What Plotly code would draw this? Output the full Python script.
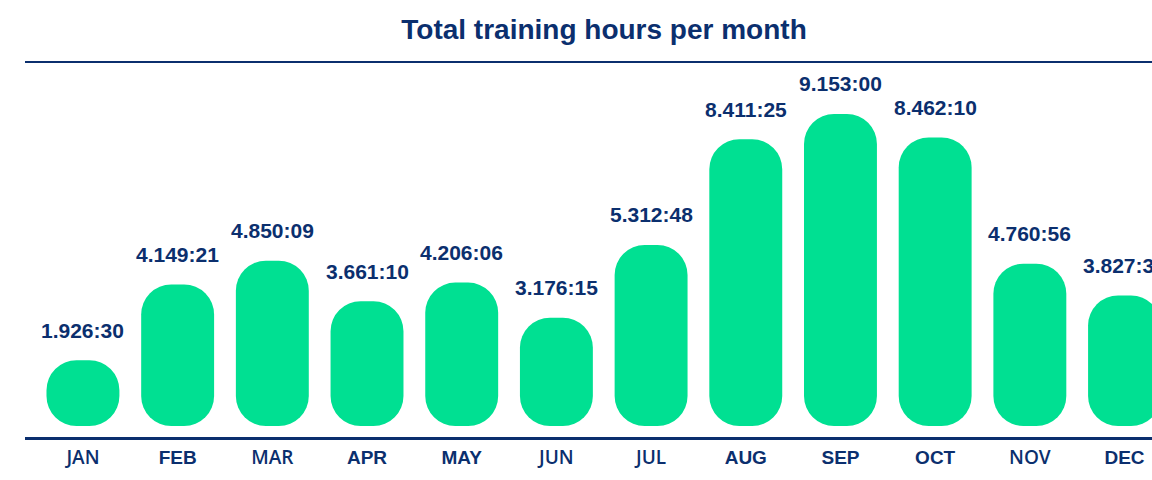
import plotly.graph_objects as go

months = ["JAN", "FEB", "MAR", "APR", "MAY", "JUN", "JUL", "AUG", "SEP", "OCT", "NOV", "DEC"]
hours = [1926, 4149, 4850, 3661, 4206, 3176, 5312, 8411, 9153, 8462, 4760, 3827]
minutes = [30, 21, 9, 10, 6, 15, 48, 25, 0, 10, 56, 30]
bold_months = ["FEB", "APR", "MAY", "AUG", "SEP", "OCT", "DEC"]

NAVY = "#0B2F6E"
GREEN = "#00E092"

values = [h + m / 60 for h, m in zip(hours, minutes)]
labels = [f"{h:,}".replace(",", ".") + f":{m:02d}" for h, m in zip(hours, minutes)]
ticktext = [f"<b>{m}</b>" if m in bold_months
            else f"<span style='font-family:Open Sans;font-weight:600'>{m}</span>"
            for m in months]

fig = go.Figure()
fig.add_trace(go.Bar(x=months, y=values, base=[0] * len(months), width=0.77,
                     marker=dict(color=GREEN, cornerradius=30, line=dict(width=0)),
                     hoverinfo="skip", showlegend=False))

for m, v, lab in zip(months, values, labels):
    fig.add_annotation(x=m, y=v, text=f"<b>{lab}</b>", showarrow=False,
                       yanchor="middle", yshift=30,
                       font=dict(family="Liberation Sans, Arial", size=21, color=NAVY))

fig.add_shape(type="line", xref="paper", yref="paper", x0=0, x1=1, y0=1.0218, y1=1.0218,
              line=dict(color=NAVY, width=2))

fig.update_layout(
    width=1152, height=480,
    margin=dict(l=25, r=0, t=70, b=43),
    paper_bgcolor="white", plot_bgcolor="white",
    title=dict(text="<b>Total training hours per month</b>", x=604 / 1152, xanchor="center",
               y=1 - 29 / 480, yanchor="middle", yref="container",
               font=dict(family="Liberation Sans, Arial", size=28, color=NAVY)),
    xaxis=dict(type="category", range=[-0.612, 11.29], showline=True, linecolor=NAVY,
               linewidth=2.5, showgrid=False, ticks="", tickvals=months, ticktext=ticktext,
               tickfont=dict(family="Liberation Sans, Arial", size=19, color=NAVY),
               ticklabelstandoff=1),
    yaxis=dict(range=[-322.7, 10443], visible=False, showgrid=False, zeroline=False),
)

fig.write_html("out.html")
